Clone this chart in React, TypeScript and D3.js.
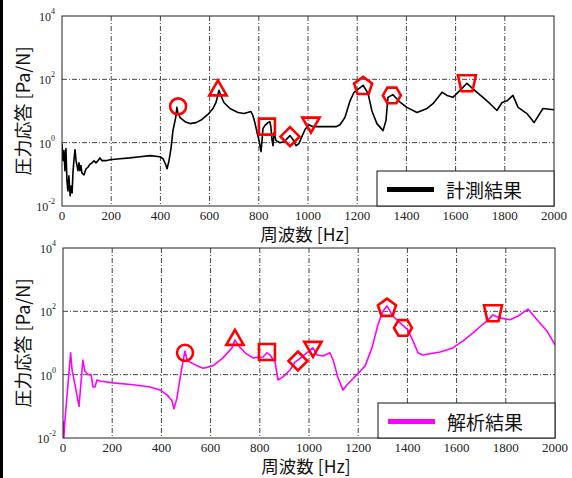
import React from "react";
import * as d3 from "d3";

// 計測結果 (measured)
const measFreq = [0, 4, 8, 12, 16, 20, 24, 28, 33, 37, 41, 45, 49, 53, 57, 61, 65, 69, 73, 77, 81, 89, 98, 106, 114, 122, 130, 138, 146, 154, 163, 179, 195, 236, 276, 317, 358, 398, 411, 423, 427, 435, 443, 451, 463, 467, 471, 480, 500, 520, 545, 569, 593, 614, 626, 638, 646, 658, 683, 715, 740, 768, 776, 784, 793, 801, 809, 813, 817, 825, 837, 845, 849, 854, 858, 862, 870, 886, 902, 915, 927, 939, 951, 963, 975, 988, 1004, 1020, 1069, 1114, 1130, 1150, 1171, 1187, 1203, 1224, 1244, 1260, 1280, 1305, 1317, 1325, 1345, 1374, 1402, 1443, 1484, 1508, 1545, 1565, 1589, 1626, 1646, 1687, 1711, 1740, 1768, 1789, 1809, 1833, 1854, 1890, 1919, 1955, 2000];
const measVal = [0.93, 0.27, 0.56, 0.13, 0.65, 0.062, 0.03, 0.09, 0.021, 0.043, 0.026, 0.13, 0.31, 0.6, 0.27, 0.19, 0.13, 0.23, 0.13, 0.19, 0.11, 0.096, 0.15, 0.17, 0.21, 0.23, 0.27, 0.23, 0.27, 0.33, 0.27, 0.27, 0.29, 0.31, 0.33, 0.36, 0.39, 0.36, 0.31, 0.19, 0.15, 0.27, 0.65, 2.4, 6.7, 13, 9, 6.2, 4.6, 4.0, 4.3, 5.4, 7.8, 12, 18.6, 45, 31, 18.6, 12, 9, 8.3, 9.6, 7.2, 4.3, 2.1, 1.16, 0.52, 1.16, 2.8, 3.5, 4.3, 4.6, 3.2, 1.16, 0.8, 2.1, 1.16, 1.0, 1.07, 1.34, 1.67, 1.25, 0.8, 0.93, 1.55, 2.6, 3.7, 3.2, 3.2, 3.2, 3.7, 6.2, 21, 39, 48, 65, 36, 10, 4, 2.4, 5, 27, 33, 19, 13, 9, 12, 17, 39, 31, 27, 52, 75, 39, 27, 17, 10.4, 18.6, 21, 31, 13, 8.3, 4.3, 12, 11];

// 解析結果 (analysis)
const simFreq = [0, 3, 8, 20, 31, 37, 49, 65, 81, 89, 102, 114, 122, 130, 138, 150, 203, 285, 354, 394, 423, 443, 451, 463, 476, 488, 496, 504, 516, 545, 569, 585, 610, 650, 687, 699, 711, 740, 772, 813, 829, 841, 862, 874, 894, 923, 943, 955, 976, 996, 1016, 1033, 1057, 1085, 1098, 1118, 1138, 1154, 1195, 1228, 1256, 1280, 1301, 1317, 1341, 1370, 1402, 1423, 1443, 1463, 1533, 1585, 1626, 1667, 1703, 1724, 1748, 1776, 1817, 1850, 1890, 1927, 1967, 2000];
const simVal = [0.035, 0.009, 0.037, 0.47, 4.9, 1.4, 0.47, 0.1, 2.9, 1.3, 1.0, 1.0, 0.41, 0.41, 0.68, 0.63, 0.55, 0.48, 0.41, 0.33, 0.23, 0.15, 0.083, 0.18, 0.79, 2.7, 5.6, 2.9, 2.5, 1.9, 1.6, 1.7, 1.9, 3.4, 7, 12.4, 8.7, 4.9, 3.4, 3.6, 4.9, 4.2, 2.5, 0.68, 0.85, 1.4, 2.5, 2.9, 3.9, 5.2, 7, 4.2, 3.9, 4.9, 2.9, 0.79, 0.33, 0.47, 1.0, 1.9, 7, 37, 102, 148, 71, 43, 26, 11.5, 4.9, 4.2, 5.2, 7, 11.6, 21, 37, 50, 77, 62, 54, 71, 118, 54, 24, 8.7];

const markerShapes = ["circle", "triangle", "square", "diamond", "triangleDown", "pentagon", "hexagon", "trapezoid"];
const measMarkFreq = [472, 634, 833, 927, 1012, 1224, 1341, 1646];
const measMarkVal = [14, 52, 3.2, 1.55, 3.7, 60, 31, 75];
const simMarkFreq = [496, 699, 829, 955, 1016, 1317, 1382, 1748];
const simMarkVal = [4.9, 14.5, 5.2, 2.7, 6.5, 126, 30, 87];

const xTicks = [0, 200, 400, 600, 800, 1000, 1200, 1400, 1600, 1800, 2000];
const yTickExp = [-2, 0, 2, 4];

const W = 572;
const H = 478;

function poly(cx: number, cy: number, n: number, r: number, startDeg: number) {
  const pts: [number, number][] = [];
  for (let i = 0; i < n; i++) {
    const a = ((startDeg + (360 / n) * i) * Math.PI) / 180;
    pts.push([cx + r * Math.cos(a), cy + r * Math.sin(a)]);
  }
  return "M" + pts.map((p) => p.join(",")).join("L") + "Z";
}

function markerPath(shape: string, x: number, y: number) {
  switch (shape) {
    case "circle":
      return `M${x - 8},${y}a8,8 0 1,0 16,0a8,8 0 1,0 -16,0`;
    case "triangle":
      return poly(x, y + 2, 3, 10, -90);
    case "triangleDown":
      return poly(x, y - 2, 3, 10, 90);
    case "square":
      return `M${x - 8},${y - 8}h16v16h-16Z`;
    case "diamond":
      return poly(x, y, 4, 9.5, -90);
    case "pentagon":
      return poly(x, y, 5, 9.5, -90);
    case "hexagon":
      return poly(x, y, 6, 9, 0);
    case "trapezoid":
      return `M${x - 9},${y - 8}L${x + 9},${y - 8}L${x + 5.5},${y + 8}L${x - 5.5},${y + 8}Z`;
  }
  return "";
}

type PanelProps = {
  id: string;
  left: number;
  right: number;
  top: number;
  bottom: number;
  titleGap: number;
  freq: number[];
  val: number[];
  color: string;
  markFreq: number[];
  markVal: number[];
  legend: string;
};

const Panel = ({ id, left, right, top, bottom, titleGap, freq, val, color, markFreq, markVal, legend }: PanelProps) => {
  const x = d3.scaleLinear().domain([0, 2000]).range([left, right]);
  const y = d3.scaleLog().domain([0.01, 10000]).range([bottom, top]);
  const line = d3
    .line<number>()
    .x((_, i) => x(freq[i]))
    .y((d) => y(d));
  const grid = "#444";
  const dash = "5,2,1,2";
  const lgW = 177;
  const lgH = 35;
  const lgX = right - lgW;
  const lgY = bottom - lgH;
  return (
    <g>
      <defs>
        <clipPath id={id}>
          <rect x={left} y={top} width={right - left} height={bottom - top} />
        </clipPath>
      </defs>
      <rect x={left} y={top} width={right - left} height={bottom - top} fill="white" />
      {xTicks.slice(1, -1).map((t) => (
        <line key={"gx" + t} x1={x(t)} x2={x(t)} y1={top} y2={bottom} stroke={grid} strokeDasharray={dash} strokeWidth={1} />
      ))}
      {yTickExp.slice(1, -1).map((e) => (
        <line key={"gy" + e} x1={left} x2={right} y1={y(10 ** e)} y2={y(10 ** e)} stroke={grid} strokeDasharray={dash} strokeWidth={1} />
      ))}
      <path d={line(val) || ""} fill="none" stroke={color} strokeWidth={1.6} strokeLinejoin="round" clipPath={`url(#${id})`} />
      {markerShapes.map((s, i) => (
        <path key={s} d={markerPath(s, x(markFreq[i]), y(markVal[i]))} fill="none" stroke="#ff0000" strokeWidth={2.6} />
      ))}
      <rect x={left} y={top} width={right - left} height={bottom - top} fill="none" stroke="#222" strokeWidth={1} />
      {xTicks.map((t) => (
        <text key={"xt" + t} x={x(t)} y={bottom + 14} textAnchor="middle" fontFamily="Liberation Serif" fontSize={13} fill="#222">
          {t}
        </text>
      ))}
      {yTickExp.map((e) => (
        <text key={"yt" + e} x={left - 7} y={y(10 ** e) + 5} textAnchor="end" fontFamily="Liberation Serif" fontSize={12} fill="#222">
          10
          <tspan dy={-7} fontSize={8}>
            {e}
          </tspan>
        </text>
      ))}
      <text x={(left + right) / 2 - 3} y={bottom + titleGap} textAnchor="middle" fontFamily="Noto Sans CJK JP" fontSize={17.5} fill="#111">
        周波数 [Hz]
      </text>
      <text
        transform={`translate(${22},${(top + bottom) / 2}) rotate(-90)`}
        textAnchor="middle"
        dominantBaseline="central"
        fontFamily="Noto Sans CJK JP"
        fontSize={18}
        fill="#111"
      >
        圧力応答 [Pa/N]
      </text>
      <rect x={lgX} y={lgY} width={lgW} height={lgH} fill="white" stroke="#111" strokeWidth={1} />
      <line x1={lgX + 10} x2={lgX + 57} y1={lgY + lgH / 2 + 1} y2={lgY + lgH / 2 + 1} stroke={color} strokeWidth={5} />
      <text x={lgX + 69} y={lgY + lgH / 2 + 1} dominantBaseline="central" fontFamily="Noto Sans CJK JP" fontSize={19} fill="#111">
        {legend}
      </text>
    </g>
  );
};

export default function App() {
  return (
    <div style={{ position: "absolute", left: 0, top: 0 }}>
      <svg width={W} height={H} style={{ display: "block", background: "white" }}>
        <rect x={0} y={0} width={3} height={H} fill="#000" />
        <Panel
          id="clipTop"
          left={62}
          right={554}
          top={16}
          bottom={206}
          titleGap={35}
          freq={measFreq}
          val={measVal}
          color="#000"
          markFreq={measMarkFreq}
          markVal={measMarkVal}
          legend="計測結果"
        />
        <Panel
          id="clipBot"
          left={63}
          right={555}
          top={248}
          bottom={438}
          titleGap={35}
          freq={simFreq}
          val={simVal}
          color="#ff00ff"
          markFreq={simMarkFreq}
          markVal={simMarkVal}
          legend="解析結果"
        />
      </svg>
    </div>
  );
}
